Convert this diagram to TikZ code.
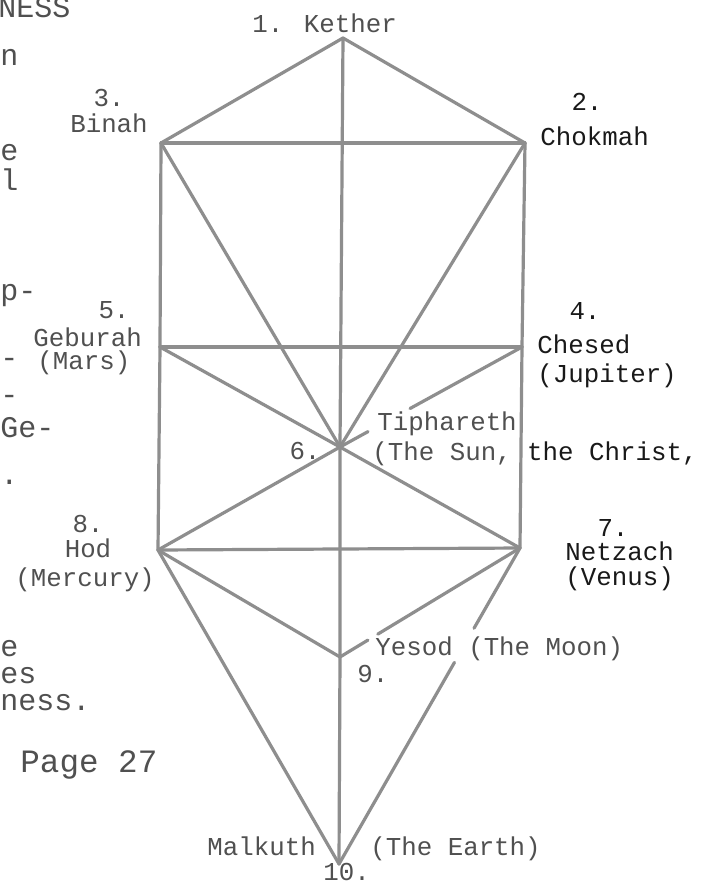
\documentclass[tikz,border=0pt]{standalone}
\usepackage{fontspec}
\setmainfont{Liberation Mono}
\usetikzlibrary{calc}
\definecolor{linec}{RGB}{142,142,142}
\definecolor{txtl}{RGB}{80,80,80}
\definecolor{txtd}{RGB}{25,25,25}
\tikzset{
  treeline/.style={draw=linec, line width=1.6pt, line cap=round, line join=round},
  lab/.style={inner sep=0pt, text=txtl, font=\fontsize{12.9pt}{14pt}\selectfont},
  labd/.style={lab, text=txtd},
  margintext/.style={inner sep=0pt, text=txtl, font=\fontsize{15pt}{17pt}\selectfont}
}
\begin{document}
\begin{tikzpicture}[x=0.5pt,y=-0.5pt]
\fill[white] (0,0) rectangle (723,891);
\useasboundingbox (0,0) rectangle (723,891);
% sephiroth points
\coordinate (ke) at (343,38);
\coordinate (bi) at (161,143);
\coordinate (co) at (525,143);
\coordinate (ge) at (160,347);
\coordinate (ch) at (522,347);
\coordinate (ti) at (340,447);
\coordinate (ho) at (158,550);
\coordinate (ne) at (520,548);
\coordinate (ye) at (340,657);
\coordinate (ma) at (339,864);
% paths
\draw[treeline] (bi) -- (ke) -- (co);
\draw[treeline] (ke) -- (ti) -- (ye) -- (ma);
\draw[treeline] (bi) -- (co);
\draw[treeline] (bi) -- (ge) -- (ho);
\draw[treeline] (co) -- (ch) -- (ne);
\draw[treeline] (bi) -- (ti);
\draw[treeline] (co) -- (ti);
\draw[treeline] (ge) -- (ch);
\draw[treeline] (ge) -- (ti);
\draw[treeline] (ch) -- ($(ch)!0.615!(ti)$);
\draw[treeline] (ti) -- ($(ti)!0.154!(ch)$);
\draw[treeline] (ho) -- (ti);
\draw[treeline] (ne) -- (ti);
\draw[treeline] (ho) -- (ne);
\draw[treeline] (ho) -- (ye);
\draw[treeline] (ne) -- ($(ne)!0.79!(ye)$);
\draw[treeline] (ye) -- ($(ye)!0.155!(ne)$);
\draw[treeline] (ho) -- (ma);
\draw[treeline] (ne) -- ($(ne)!0.254!(ma)$);
\draw[treeline] ($(ne)!0.362!(ma)$) -- (ma);
% labels
\node[lab, anchor=base west] (lke) at (252,32) {1. Kether};
\node[lab, anchor=base] (lbin) at (109,106) {3.};
\node[lab, anchor=base] (lbia) at (109,132) {Binah};
\node[labd, anchor=base] (lcon) at (587,110) {2.};
\node[labd, anchor=base west] (lcoa) at (540,145) {Chokmah};
\node[lab, anchor=base] (lgen) at (114,318) {5.};
\node[lab, anchor=base west] (lgea) at (33,346) {Geburah};
\node[lab, anchor=base west] (lgep) at (37,369) {(Mars)};
\node[labd, anchor=base] (lchn) at (585,319) {4.};
\node[labd, anchor=base west] (lcha) at (537,353) {Chesed};
\node[labd, anchor=base west] (lchp) at (537,382) {(Jupiter)};
\node[lab, anchor=base west] (ltia) at (377,430) {Tiphareth};
\node[lab, anchor=base west] (ltip) at (372,460) {(The Sun, \textcolor{txtd}{the Christ,}};
\node[lab, anchor=base] (ltin) at (305,459) {6.};
\node[lab, anchor=base] (lhon) at (88,532) {8.};
\node[lab, anchor=base] (lhoa) at (88,557) {Hod};
\node[lab, anchor=base west] (lhop) at (15,586) {(Mercury)};
\node[labd, anchor=base] (lnen) at (613,536) {7.};
\node[labd, anchor=base west] (lnea) at (565,560) {Netzach};
\node[labd, anchor=base west] (lnep) at (565,585) {(Venus)};
\node[lab, anchor=base west] (lyea) at (375,655) {Yesod (The Moon)};
\node[lab, anchor=base west] (lyen) at (357,682) {9.};
\node[lab, anchor=base west] (lmaa) at (207,855) {Malkuth};
\node[lab, anchor=base west] (lmap) at (370,855) {(The Earth)};
\node[lab, anchor=base west] (lman) at (323,880) {10.};
% cut-off page text on the left
\node[margintext, anchor=base west] (m1) at (-2,17) {NESS};
\node[margintext, anchor=base west] (m2) at (0,65) {n};
\node[margintext, anchor=base west] (m3) at (0,160) {e};
\node[margintext, anchor=base west] (m4) at (0,190) {l};
\node[margintext, anchor=base west] (m5) at (0,300) {p-};
\node[margintext, anchor=base west] (m6) at (0,367) {-};
\node[margintext, anchor=base west] (m7) at (0,404) {-};
\node[margintext, anchor=base west] (m8) at (0,437) {Ge-};
\node[margintext, anchor=base west] (m9) at (0,484) {.};
\node[margintext, anchor=base west] (m10) at (0,656) {e};
\node[margintext, anchor=base west] (m11) at (0,683) {es};
\node[margintext, anchor=base west] (m12) at (0,710) {ness.};
\node[margintext, anchor=base west, font=\fontsize{16.3pt}{18pt}\selectfont] (m13) at (20,772) {Page 27};
\end{tikzpicture}
\end{document}
